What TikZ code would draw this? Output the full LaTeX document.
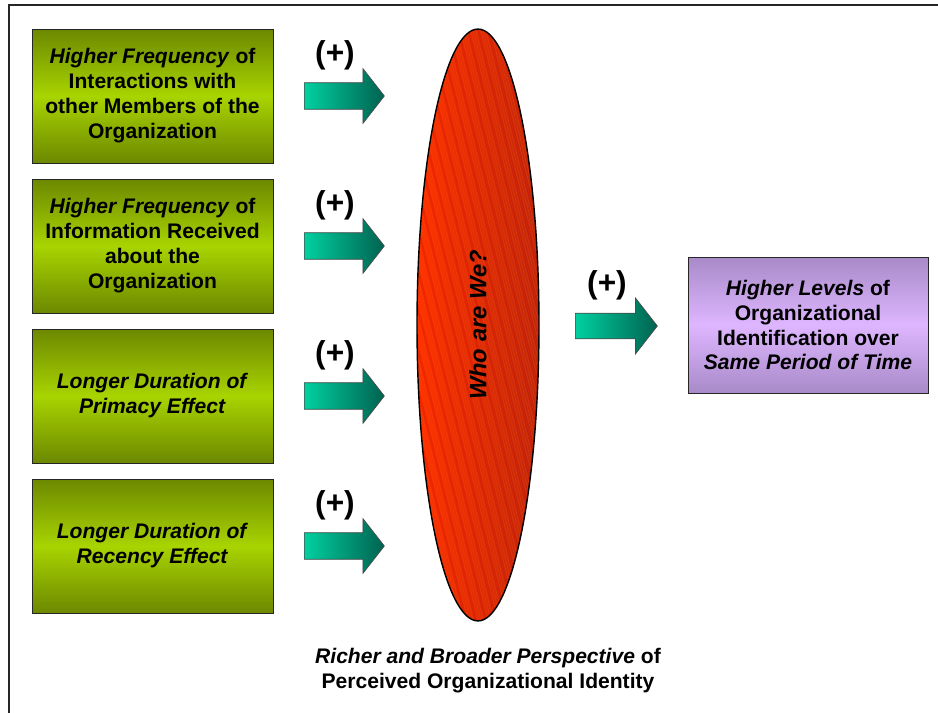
\documentclass[tikz,border=0pt]{standalone}
\usepackage{fontspec}
\setmainfont{Liberation Sans}
\usetikzlibrary{shapes.geometric,shapes.arrows,positioning}
\definecolor{boxdark}{RGB}{108,136,0}
\definecolor{boxlight}{RGB}{168,212,0}
\definecolor{outdark}{RGB}{168,138,200}
\definecolor{outlight}{RGB}{222,182,255}
\definecolor{arrlight}{RGB}{0,208,160}
\definecolor{arrdark}{RGB}{0,98,80}
\definecolor{wholeft}{RGB}{255,50,0}
\definecolor{whoright}{RGB}{190,40,15}

\begin{document}
\begin{tikzpicture}[x=0.02cm,y=-0.02cm,
		txt/.style={font=\fontsize{12}{14.2}\selectfont\bfseries, align=center},
		factor/.style={txt, draw=black!85, top color=boxdark, bottom color=boxdark, middle color=boxlight, minimum width=4.82cm, minimum height=2.68cm, inner sep=1pt},
		outcome/.style={txt, draw=black!85, top color=outdark, bottom color=outdark, middle color=outlight, minimum width=4.8cm, minimum height=2.72cm, inner sep=1pt},
		blockarrow/.style={single arrow, draw=black!70, left color=arrlight, right color=arrdark, minimum height=1.6cm, inner xsep=0pt, inner ysep=0.26cm, single arrow head extend=0.28cm, single arrow tip angle=104, anchor=tail},
		plus/.style={font=\fontsize{18}{20}\selectfont\bfseries}]
	\useasboundingbox (0,0) rectangle (938,713);
	\draw[line width=1.2pt, black!85] (9,713) |- (938,5);

	% four factors on the left
	\foreach \y/\n/\t in {96/f1/{\textit{Higher Frequency} of\\ Interactions with\\ other Members of the\\ Organization},
			246/f2/{\textit{Higher Frequency} of\\ Information Received\\ about the\\ Organization},
			396/f3/{\textit{Longer Duration of}\\ \textit{Primacy Effect}},
			546/f4/{\textit{Longer Duration of}\\ \textit{Recency Effect}}}{
			\node [factor] (\n) at (152.5, \y) {\t};
			\node [blockarrow] (a\n) at (304, \y) {};
			\node [plus] (p\n) at (335, \y-41) {(+)};
		}

	% the ellipse
	\node [ellipse, draw=black, line width=0.8pt, minimum width=2.44cm, minimum height=11.84cm, inner sep=0pt,
		left color=wholeft, right color=whoright,
		path picture={\foreach \i in {-92,...,28}{
						\draw [red!45!orange, opacity=.4, line width=0.4pt] ([xshift=\i*0.05cm]path picture bounding box.north) --++(150,600);
					}
				\foreach \i in {-23,...,7}{
						\draw [red!75!black, opacity=.25, line width=1.2pt] ([xshift=\i*0.2cm]path picture bounding box.north) --++(150,600);
					}}] (who) at (478, 325) {};
	\node [rotate=90, font=\fontsize{13.5}{15}\selectfont\bfseries\itshape] (whotxt) at (who.center) {Who are We?};
	\node [txt] (persp) at (488, 671) {\textit{Richer and Broader Perspective} of\\ Perceived Organizational Identity};

	% outcome
	\node [blockarrow, minimum height=1.64cm, inner ysep=0.25cm, single arrow head extend=0.3cm] (aout) at (575, 326) {};
	\node [plus] (pout) at (607, 285) {(+)};
	\node [outcome] (out) at (808, 325) {\textit{Higher Levels} of\\ Organizational\\ Identification over\\ \textit{Same Period of Time}};
\end{tikzpicture}
\end{document}
